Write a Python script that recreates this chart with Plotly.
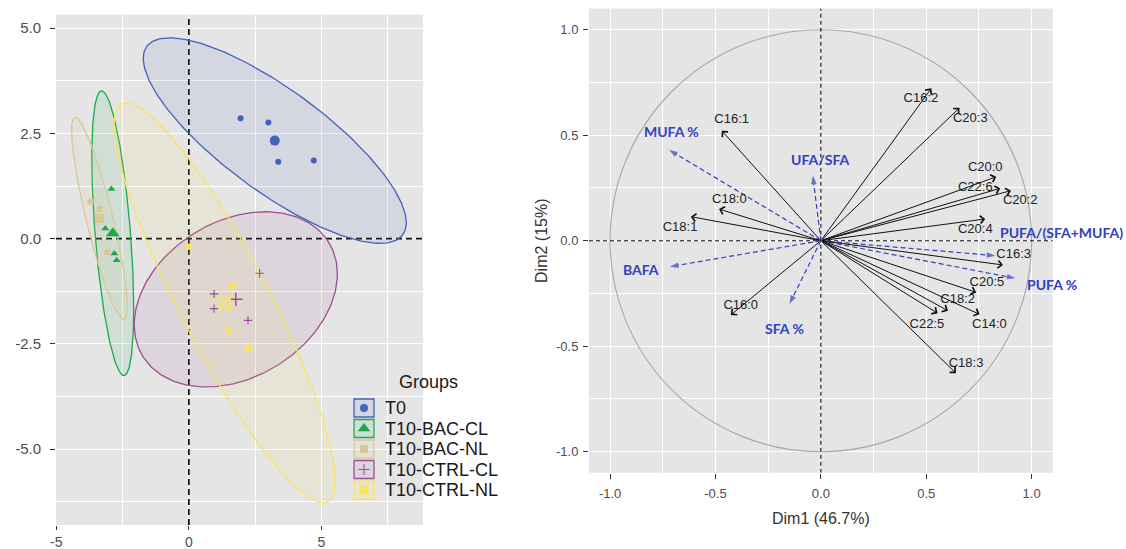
import numpy as np
import plotly.graph_objects as go

W, H = 1126, 549
FONT = "Liberation Sans, Arial, sans-serif"

# ---------------- Left panel: individuals ----------------
groups = ["T0", "T10-BAC-CL", "T10-BAC-NL", "T10-CTRL-CL", "T10-CTRL-NL"]
group_colors = ["#4262BC", "#1CA94C", "#D9C896", "#9A4E95", "#FAE45C"]

t0_x = [1.95, 3.00, 3.37, 4.71]
t0_y = [2.86, 2.76, 1.83, 1.86]
bac_cl_x = [-2.92, -3.15, -2.81, -2.72]
bac_cl_y = [1.18, 0.24, -0.35, -0.51]
bac_nl_x = [-3.71, -3.37, -3.08]
bac_nl_y = [0.88, 0.70, -0.32]
ctrl_cl_x = [2.67, 0.95, 0.95, 2.23]
ctrl_cl_y = [-0.82, -1.31, -1.66, -1.94]
ctrl_nl_x = [0.01, 1.64, 1.52, 2.23]
ctrl_nl_y = [-0.19, -1.14, -2.18, -2.60]

centroid_x = [3.24, -2.87, -3.37, 1.77, 1.35]
centroid_y = [2.33, 0.13, 0.48, -1.44, -1.52]

# concentration ellipses: half extent along x, half extent along y, x-y correlation
ellipse_sx = [4.96, 0.79, 1.05, 3.83, 4.17]
ellipse_sy = [2.44, 3.38, 2.40, 2.08, 4.75]
ellipse_r = [-0.80, -0.53, -0.87, 0.29, -0.89]

# ---------------- Right panel: variables ----------------
var_names = ["C16:1", "C18:0", "C18:1", "C16:0", "C16:2", "C20:3", "C20:0", "C22:6",
             "C20:2", "C20:4", "C16:3", "C20:5", "C18:2", "C14:0", "C22:5", "C18:3"]
var_x = [-0.470, -0.483, -0.617, -0.427, 0.524, 0.658, 0.832, 0.851,
         0.902, 0.780, 0.864, 0.737, 0.603, 0.753, 0.554, 0.641]
var_y = [0.521, 0.150, 0.114, -0.352, 0.722, 0.630, 0.303, 0.248,
         0.237, 0.103, -0.115, -0.245, -0.332, -0.349, -0.344, -0.628]
var_label_x = [-0.423, -0.434, -0.668, -0.380, 0.475, 0.709, 0.780, 0.733,
               0.946, 0.733, 0.915, 0.788, 0.649, 0.800, 0.503, 0.689]
var_label_y = [0.572, 0.196, 0.062, -0.308, 0.675, 0.580, 0.348, 0.251,
               0.188, 0.054, -0.068, -0.199, -0.281, -0.400, -0.396, -0.584]

sup_names = ["MUFA %", "UFA/SFA", "BAFA", "SFA %", "PUFA/(SFA+MUFA)", "PUFA %"]
sup_x = [-0.720, -0.038, -0.716, -0.149, 0.828, 0.923]
sup_y = [0.430, 0.308, -0.123, -0.300, -0.071, -0.178]
sup_label_x = [-0.707, 0.000, -0.855, -0.173, 1.144, 1.097]
sup_label_y = [0.517, 0.383, -0.136, -0.418, 0.038, -0.207]

left_xticks = [-5, 0, 5]
left_yticks = [-5.0, -2.5, 0.0, 2.5, 5.0]
right_ticks = [-1.0, -0.5, 0.0, 0.5, 1.0]

# ---------------- layout geometry (pixels) ----------------
L_DOM_X = [56 / W, 423 / W]
L_DOM_Y = [(H - 525) / H, (H - 14.7) / H]
L_XR = [-5.01, 8.83]
L_YR = [-6.80, 5.32]
R_DOM_X = [589 / W, 1052.7 / W]
R_DOM_Y = [(H - 472.8) / H, (H - 8.6) / H]
R_R = [-1.1, 1.1]
PANEL = "#E5E5E5"
BLUE = "#3141C0"
R_PX_PER_UNIT = (R_DOM_X[1] - R_DOM_X[0]) * W / (R_R[1] - R_R[0])


def rgba(h, a):
    h = h.lstrip("#")
    return "rgba(%d,%d,%d,%.3f)" % (int(h[0:2], 16), int(h[2:4], 16), int(h[4:6], 16), a)


fig = go.Figure()

pts_x = [t0_x, bac_cl_x, bac_nl_x, ctrl_cl_x, ctrl_nl_x]
pts_y = [t0_y, bac_cl_y, bac_nl_y, ctrl_cl_y, ctrl_nl_y]
sym_pts = ["circle", "triangle-up", "square", "cross-thin-open", "square"]
sym_cen = ["circle", "triangle-up", "square", "cross-thin-open", "square-x-open"]
size_pts = [6, 7, 6, 6, 6]
size_cen = [10, 12, 9, 9.5, 11]

t = np.linspace(0, 2 * np.pi, 241)
for i, g in enumerate(groups):
    c = group_colors[i]
    r = ellipse_r[i]
    ex = centroid_x[i] + ellipse_sx[i] * np.cos(t)
    ey = centroid_y[i] + ellipse_sy[i] * (r * np.cos(t) + np.sqrt(1 - r * r) * np.sin(t))
    fig.add_trace(go.Scatter(x=ex, y=ey, mode="lines", fill="toself",
                             fillcolor=rgba(c, 0.10), line=dict(color=c, width=1.3),
                             xaxis="x", yaxis="y", showlegend=False, hoverinfo="skip"))

for i, g in enumerate(groups):
    c = group_colors[i]
    open_sym = sym_pts[i].endswith("open")
    fig.add_trace(go.Scatter(
        x=pts_x[i], y=pts_y[i], mode="markers", xaxis="x", yaxis="y", showlegend=False,
        marker=dict(symbol=sym_pts[i], size=size_pts[i], color=c,
                    line=dict(color=c, width=1.1 if open_sym else 0))))
    fig.add_trace(go.Scatter(
        x=[centroid_x[i]], y=[centroid_y[i]], mode="markers", xaxis="x", yaxis="y",
        showlegend=False,
        marker=dict(symbol=sym_cen[i], size=size_cen[i], color=c,
                    line=dict(color=c, width=1.5 if sym_cen[i].endswith("open") else 0))))

# ---------------- Right panel traces ----------------
for i, n in enumerate(sup_names):
    fig.add_trace(go.Scatter(
        x=[0, sup_x[i]], y=[0, sup_y[i]], mode="lines+markers", xaxis="x2", yaxis="y2",
        showlegend=False, hoverinfo="skip",
        line=dict(color=BLUE, width=1.2, dash="5px,3px"),
        marker=dict(symbol="arrow", size=[0, 9], color=BLUE, angleref="previous",
                    line=dict(width=0))))

fig.add_trace(go.Scatter(
    x=var_label_x, y=var_label_y, text=var_names, mode="text", xaxis="x2", yaxis="y2",
    textposition="middle center", cliponaxis=False, showlegend=False, hoverinfo="skip",
    textfont=dict(family=FONT, size=13, color="#222222")))

annotations = []
for i, n in enumerate(var_names):
    annotations.append(dict(x=var_x[i], y=var_y[i], ax=0, ay=0, xref="x2", yref="y2",
                            axref="x2", ayref="y2", text="", showarrow=True,
                            arrowhead=4, arrowsize=1.5, arrowwidth=1.0,
                            arrowcolor="#111111", standoff=0))
# supplementary-variable labels (may sit just outside the panel, so anchor inside + shift)
for i, n in enumerate(sup_names):
    ax_x = min(sup_label_x[i], 1.05)
    annotations.append(dict(x=ax_x, y=sup_label_y[i], xref="x2", yref="y2",
                            xshift=(sup_label_x[i] - ax_x) * R_PX_PER_UNIT,
                            text=n, showarrow=False, xanchor="center", yanchor="middle",
                            font=dict(family="Lato, Carlito, sans-serif", size=14,
                                      color=BLUE, weight="bold")))

# ---------------- Manual legend (overlay axis in pixel units) ----------------
leg_sym = ["circle", "triangle-up", "square", "cross-thin-open", "square-x"]
leg_size = [8, 11, 8, 8, 9]
shapes = []
for i, g in enumerate(groups):
    c = group_colors[i]
    ry = 408 + 20.5 * i
    shapes.append(dict(type="rect", xref="x3", yref="y3", x0=354, x1=374,
                       y0=ry - 9, y1=ry + 9, line=dict(color=c, width=1.3),
                       fillcolor=rgba(c, 0.10), layer="below"))
    fig.add_trace(go.Scatter(
        x=[364], y=[ry], mode="markers", xaxis="x3", yaxis="y3", showlegend=False,
        hoverinfo="skip",
        marker=dict(symbol=leg_sym[i], size=leg_size[i], color=c,
                    line=dict(color=c, width=1.1 if leg_sym[i].endswith("open") else 0))))
    annotations.append(dict(x=383, y=ry, xref="x3", yref="y3", text=g, showarrow=False,
                            xanchor="left", yanchor="middle",
                            font=dict(family=FONT, size=18, color="#1A1A1A")))
annotations.append(dict(x=397, y=382, xref="x3", yref="y3", text="Groups", showarrow=False,
                        xanchor="left", yanchor="middle",
                        font=dict(family=FONT, size=18, color="#1A1A1A")))

# panel backgrounds
shapes.insert(0, dict(type="rect", xref="paper", yref="paper", x0=L_DOM_X[0], x1=L_DOM_X[1],
                      y0=L_DOM_Y[0], y1=L_DOM_Y[1], fillcolor=PANEL, line=dict(width=0),
                      layer="below"))
shapes.insert(1, dict(type="rect", xref="paper", yref="paper", x0=R_DOM_X[0], x1=R_DOM_X[1],
                      y0=R_DOM_Y[0], y1=R_DOM_Y[1], fillcolor=PANEL, line=dict(width=0),
                      layer="below"))
# reference lines
shapes += [
    dict(type="line", xref="x", yref="y", x0=0, x1=0, y0=L_YR[0], y1=L_YR[1],
         line=dict(color="#111111", width=1.7, dash="6px,4px"), layer="between"),
    dict(type="line", xref="x", yref="y", x0=L_XR[0], x1=L_XR[1], y0=0, y1=0,
         line=dict(color="#111111", width=1.7, dash="6px,4px"), layer="between"),
    dict(type="circle", xref="x2", yref="y2", x0=-1, x1=1, y0=-1, y1=1,
         line=dict(color="#A8A8A8", width=1.1), layer="between"),
    dict(type="line", xref="x2", yref="y2", x0=0, x1=0, y0=R_R[0], y1=R_R[1],
         line=dict(color="#111111", width=1.1, dash="4px,3px"), layer="between"),
    dict(type="line", xref="x2", yref="y2", x0=R_R[0], x1=R_R[1], y0=0, y1=0,
         line=dict(color="#111111", width=1.1, dash="4px,3px"), layer="between"),
]


def axis(dom, rng, ticks, text, minor, anchor, size, standoff, ticklen=5):
    return dict(domain=dom, range=rng, tickmode="array", tickvals=ticks, ticktext=text,
                showgrid=True, gridcolor="white", gridwidth=1.2, zeroline=False,
                showline=False, ticks="outside", ticklen=ticklen, tickwidth=1.4,
                tickcolor="#333333", ticklabelstandoff=standoff, automargin=False,
                tickfont=dict(family=FONT, size=size, color="#4D4D4D"),
                minor=dict(tickvals=minor, showgrid=True, gridcolor="white", gridwidth=0.6,
                           ticks=""),
                anchor=anchor, fixedrange=True)


fig.update_layout(
    width=W, height=H, autosize=False,
    margin=dict(l=0, r=0, t=0, b=0, pad=0),
    paper_bgcolor="white", plot_bgcolor="rgba(0,0,0,0)",
    font=dict(family=FONT),
    xaxis=axis(L_DOM_X, L_XR, left_xticks, [str(v) for v in left_xticks],
               [-2.5, 2.5, 7.5], "y", 14, 0, ticklen=4),
    yaxis=axis(L_DOM_Y, L_YR, left_yticks, ["%.1f" % v for v in left_yticks],
               [-6.25, -3.75, -1.25, 1.25, 3.75], "x", 15, 6),
    xaxis2=axis(R_DOM_X, R_R, right_ticks, ["%.1f" % v for v in right_ticks],
                [-0.75, -0.25, 0.25, 0.75], "y2", 13, 4),
    yaxis2=axis(R_DOM_Y, R_R, right_ticks, ["%.1f" % v for v in right_ticks],
                [-0.75, -0.25, 0.25, 0.75], "x2", 13, 2),
    xaxis3=dict(domain=[0, 1], range=[0, W], visible=False, anchor="y3", fixedrange=True,
                automargin=False),
    yaxis3=dict(domain=[0, 1], range=[H, 0], visible=False, anchor="x3", fixedrange=True,
                automargin=False),
    shapes=shapes,
    annotations=annotations,
)
fig.update_layout(
    xaxis2_title=dict(text="Dim1 (46.7%)", font=dict(family=FONT, size=16, color="#333333"),
                      standoff=12),
    yaxis2_title=dict(text="Dim2 (15%)", font=dict(family=FONT, size=16, color="#333333"),
                      standoff=4),
)

fig.write_html("out.html")
